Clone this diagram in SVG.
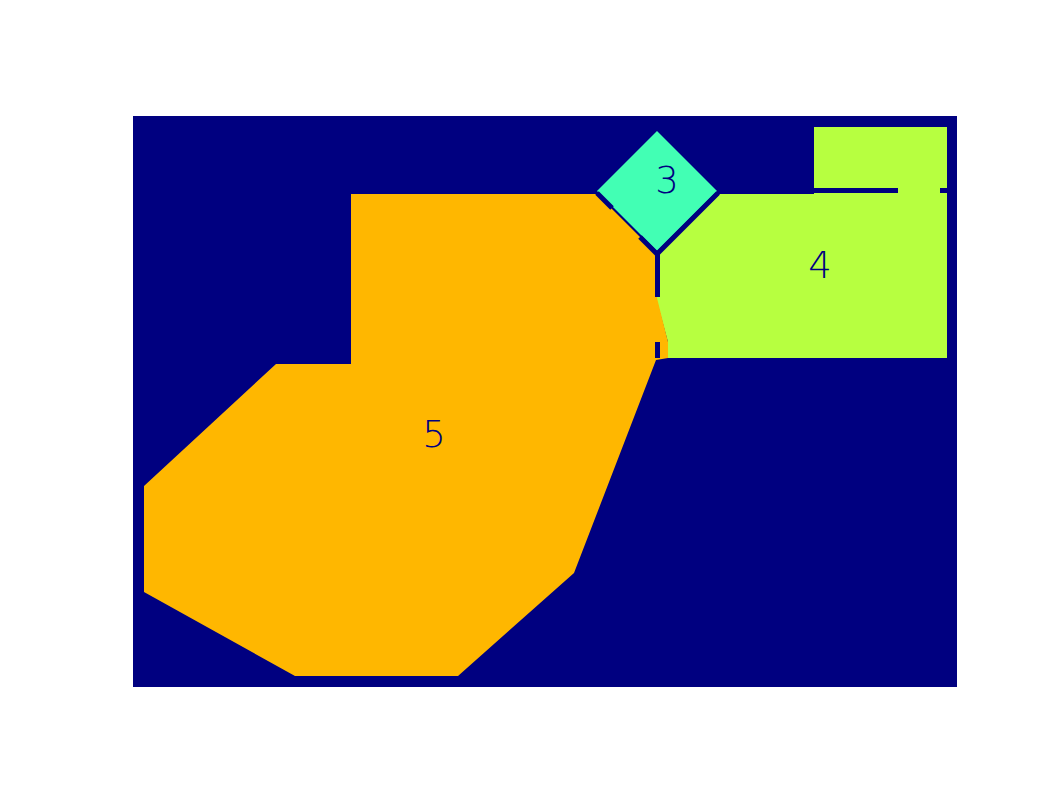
<svg xmlns="http://www.w3.org/2000/svg" width="1062" height="796" viewBox="0 0 1062 796">
<style>
.lbl{font-family:"DejaVu Sans","Liberation Sans",sans-serif;font-size:37px;font-weight:200;fill:#000080;text-anchor:middle}
.edge{stroke:#000080;stroke-width:5;fill:none}
</style>
<rect x="0" y="0" width="1062" height="796" fill="#ffffff"/>
<rect x="133" y="116" width="824" height="571" fill="#000080"/>
<g id="node4">
<polygon points="720,194 947,194 947,358 668,358 668,342 656,298 657,255" fill="#b7ff40"/>
<rect x="814" y="127" width="133" height="67" fill="#b7ff40"/>
<text class="lbl" x="820" y="278">4</text>
</g>
<g id="node5">
<polygon points="351,194 597,194 657,254 657,298 668,342 668,358 656,360 574,573 458,676 295,676 144,592 144,486 276,364 351,364" fill="#ffb700"/>
<text class="lbl" x="434" y="447">5</text>
</g>
<g id="node3">
<polygon points="657,131 717,191 657,251 597,191" fill="#42ffb4"/>
<text class="lbl" x="667" y="193">3</text>
</g>
<g id="connectors">
<line class="edge" x1="597" y1="193" x2="612" y2="208"/>
<line class="edge" x1="640" y1="237" x2="657" y2="254"/>
<line class="edge" x1="718" y1="193" x2="657" y2="254"/>
<line class="edge" x1="657.5" y1="252" x2="657.5" y2="297"/>
<line class="edge" x1="657.5" y1="342" x2="657.5" y2="358"/>
<rect x="809" y="188" width="89" height="5" fill="#000080"/>
<rect x="940" y="188" width="7" height="5" fill="#000080"/>
</g>
</svg>
